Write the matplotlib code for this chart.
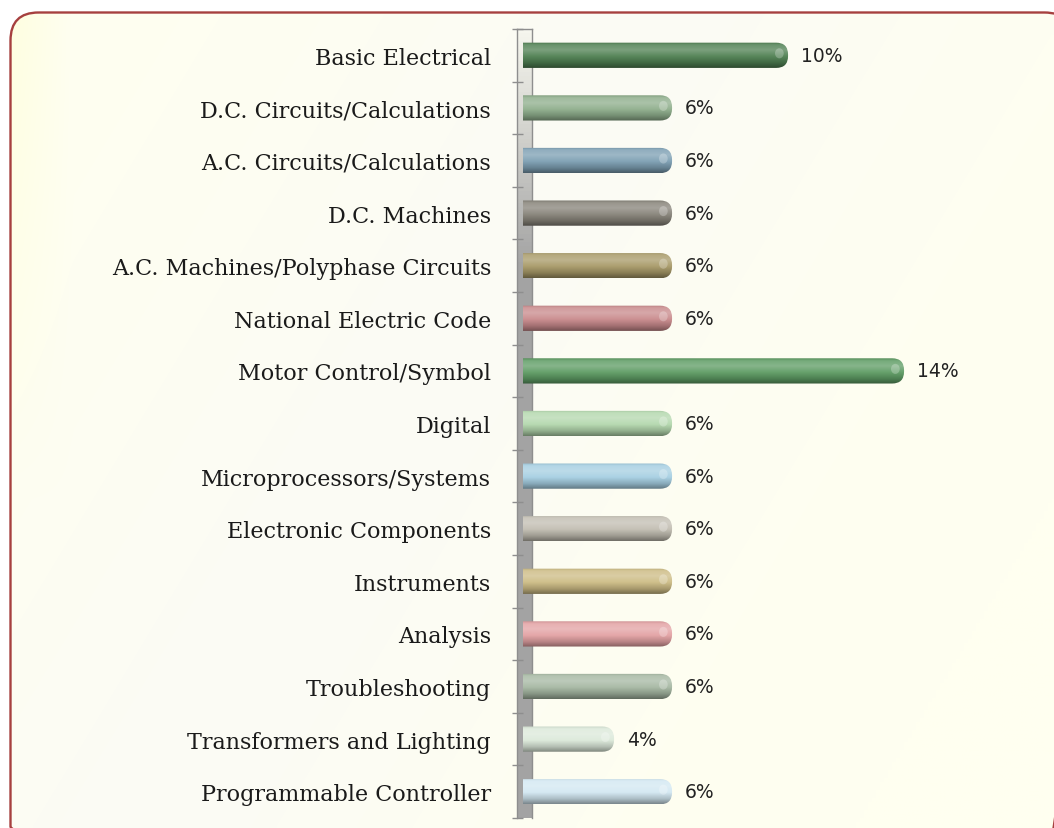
import numpy as np
import matplotlib
matplotlib.use("Agg")
import matplotlib.pyplot as plt
from matplotlib.patches import FancyBboxPatch, Ellipse
from matplotlib.colors import to_rgb

categories = ["Basic Electrical", "D.C. Circuits/Calculations", "A.C. Circuits/Calculations",
              "D.C. Machines", "A.C. Machines/Polyphase Circuits", "National Electric Code",
              "Motor Control/Symbol", "Digital", "Microprocessors/Systems",
              "Electronic Components", "Instruments", "Analysis", "Troubleshooting",
              "Transformers and Lighting", "Programmable Controller"]
values = [10, 6, 6, 6, 6, 6, 14, 6, 6, 6, 6, 6, 6, 4, 6]
value_labels = [f"{v}%" for v in values]
bar_colors = ["#4f8052", "#8fae8c", "#7d9fb3", "#878379", "#a89a68", "#c98a8c",
              "#5e9c64", "#b4d8ae", "#a6cfe2", "#c2beb2", "#cdbc85", "#e3a2a4",
              "#a6b8a3", "#dce9da", "#d3e8f2"]

W, H = 1054, 829
fig = plt.figure(figsize=(W / 100, H / 100), dpi=100)
fig.patch.set_facecolor("white")


def mix(c, other, t):
    c = np.array(to_rgb(c))
    return c * (1 - t) + np.array(other) * t


# background panel with rounded frame
bg = fig.add_axes([0, 0, 1, 1], zorder=0)
bg.axis("off")
yy, xx = np.mgrid[0:H:4, 0:W:4]
cream = np.array(to_rgb("#fffff0"))
pale = np.array(to_rgb("#fbfbf5"))
yellow = np.array(to_rgb("#ffffdc"))
w = np.clip(1 - np.abs((xx + 0.6 * yy) - 650) / 700.0, 0, 1) ** 1.5
grad = cream * (1 - w[..., None]) + pale * w[..., None]
wy = np.clip(1 - (xx - 10) / 60.0, 0, 1) * np.clip(1 - yy / 500.0, 0, 1) * 0.8
grad = grad * (1 - wy[..., None]) + yellow * wy[..., None]
frame = FancyBboxPatch((10.5, 13.5), 1062, 842, boxstyle="round,pad=0,rounding_size=28",
                       fc="none", ec="#a6403f", lw=1.7, zorder=2)
bg.add_patch(frame)
im = bg.imshow(grad, extent=(0, W, H, 0), zorder=1, interpolation="bilinear")
im.set_clip_path(frame)
bg.set_xlim(0, W)
bg.set_ylim(H, 0)

# gray 3D wall behind the category axis
wax = fig.add_axes([517 / W, 1 - 819 / H, 15 / W, 789 / H], zorder=1)
t = np.linspace(0, 1, 200)
shade = np.clip(t / 0.3, 0, 1)[:, None, None]
wall = np.array(to_rgb("#f6f6ee")) * (1 - shade) + np.array(to_rgb("#a3a3a3")) * shade
wall = np.repeat(wall, 3, axis=1)
wax.imshow(wall, aspect="auto", extent=(0, 1, 1, 0))
wax.set_xlim(0, 1)
wax.set_ylim(1, 0)
wax.set_xticks([])
wax.set_yticks([])
for s in wax.spines.values():
    s.set_color("#8e8e8e")
    s.set_linewidth(1.0)
wax.spines["bottom"].set_visible(False)
wax.patch.set_alpha(0)

# main chart axes
ax = fig.add_axes([523 / W, 1 - 819 / H, (1045 - 523) / W, 789 / H], zorder=2)
ax.patch.set_alpha(0)
y = np.arange(len(categories))
bar_h = 0.48
bars = ax.barh(y, values, height=bar_h, color=bar_colors)

profile_t = [0.0, 0.1, 0.3, 0.55, 0.8, 1.0]
for rect, c in zip(bars, bar_colors):
    rect.set_visible(False)
    x0, y0, bw, bh = rect.get_x(), rect.get_y(), rect.get_width(), rect.get_height()
    shape = FancyBboxPatch((x0, y0), bw, bh, boxstyle="round,pad=0,rounding_size=0.41",
                           mutation_aspect=0.556, fc="none", ec="none")
    ax.add_patch(shape)
    prof = [mix(c, (0, 0, 0), 0.08), mix(c, (1, 1, 1), 0.15), mix(c, (1, 1, 1), 0.25),
            mix(c, (1, 1, 1), 0.05), mix(c, (0, 0, 0), 0.18), mix(c, (0, 0, 0), 0.42)]
    tt = np.linspace(0, 1, 60)
    col = np.stack([np.interp(tt, profile_t, [p[k] for p in prof]) for k in range(3)], axis=-1)
    img = ax.imshow(col[:, None, :], aspect="auto", extent=(x0, x0 + bw, y0 + bh, y0),
                    interpolation="bilinear", zorder=2)
    img.set_clip_path(shape)
    glare = Ellipse((x0 + bw - 0.3, y0 + bh * 0.42), 0.3, bh * 0.4,
                    fc="white", ec="none", alpha=0.25, zorder=3)
    ax.add_patch(glare)
    glare.set_clip_path(shape)

for yi, v, lab in zip(y, values, value_labels):
    ax.text(v + 0.45, yi, lab, ha="left", va="center", fontsize=13.5,
            family="DejaVu Sans", color="#222222")

ax.set_xlim(0.86, 18.86)
ax.set_ylim(len(categories) - 0.5, -0.5)
ax.set_xticks([])
ax.set_yticks(y)
ax.set_yticklabels(categories, family="DejaVu Serif", fontsize=16, color="#1a1a1a")
ax.set_yticks(np.arange(-0.5, len(categories)), minor=True)
ax.tick_params(axis="y", which="major", length=0, pad=23)
ax.tick_params(axis="y", which="minor", length=8, width=1, color="#8e8e8e")
for s in ax.spines.values():
    s.set_visible(False)

fig.savefig("out.png", dpi=100)
